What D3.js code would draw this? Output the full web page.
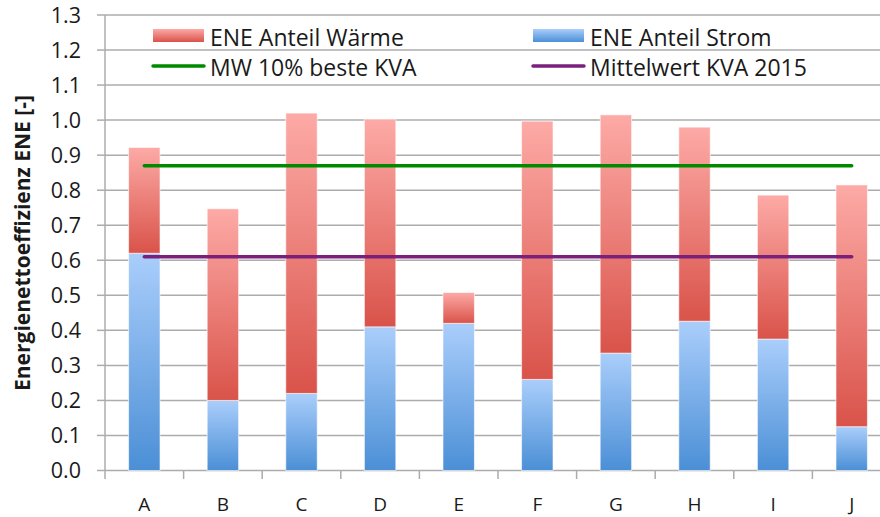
<!DOCTYPE html>
<html>
<head>
<meta charset="utf-8">
<script src="https://cdn.jsdelivr.net/npm/d3@7"></script>
<style>
  html, body { margin: 0; padding: 0; background: #fff; }
  svg { display: block; }
  text { font-family: "Open Sans", "Noto Sans", sans-serif; fill: #1a1a1a; }
</style>
</head>
<body>
<svg id="chart" width="880" height="517"></svg>
<script>
// Plant categories and ENE shares
const categories = ["A", "B", "C", "D", "E", "F", "G", "H", "I", "J"];
const anteilStrom = [0.62, 0.20, 0.22, 0.41, 0.42, 0.26, 0.335, 0.426, 0.375, 0.125];
const anteilWaerme = [0.302, 0.547, 0.80, 0.593, 0.088, 0.737, 0.68, 0.554, 0.411, 0.69];
// Reference averages drawn as horizontal lines
const mwBesteKVA = 0.87;
const mittelwertKVA2015 = 0.61;
// Y axis ticks
const yTicks = [0.0, 0.1, 0.2, 0.3, 0.4, 0.5, 0.6, 0.7, 0.8, 0.9, 1.0, 1.1, 1.2, 1.3];

const legendLabels = ["ENE Anteil Wärme", "ENE Anteil Strom", "MW 10% beste KVA", "Mittelwert KVA 2015"];

const svg = d3.select("#chart");
const plot = { left: 105, right: 891, top: 15, bottom: 470.5 };

const x = d3.scaleBand()
  .domain(categories)
  .range([plot.left, plot.right])
  .paddingInner(0.6)
  .paddingOuter(0.3);
const step = x.step();

const y = d3.scaleLinear()
  .domain([0, 1.3])
  .range([plot.bottom, plot.top]);

// Gradients for the two stacked series
const defs = svg.append("defs");
function vGrad(id, top, bottom) {
  const g = defs.append("linearGradient").attr("id", id)
    .attr("x1", 0).attr("y1", 0).attr("x2", 0).attr("y2", 1);
  g.append("stop").attr("offset", "0%").attr("stop-color", top);
  g.append("stop").attr("offset", "100%").attr("stop-color", bottom);
}
vGrad("gradWaerme", "#fdaaa6", "#d9534a");
vGrad("gradStrom", "#aacefb", "#4b8fd6");

const gridColor = "#acacac";

// Horizontal gridlines
svg.append("g").selectAll("line").data(yTicks).join("line")
  .attr("x1", plot.left).attr("x2", plot.right)
  .attr("y1", d => y(d)).attr("y2", d => y(d))
  .attr("stroke", gridColor).attr("stroke-width", 1.5);

// Y axis line and ticks
svg.append("line")
  .attr("x1", plot.left).attr("x2", plot.left)
  .attr("y1", plot.top).attr("y2", plot.bottom)
  .attr("stroke", gridColor).attr("stroke-width", 1.5);
svg.append("g").selectAll("line").data(yTicks).join("line")
  .attr("x1", plot.left - 8).attr("x2", plot.left)
  .attr("y1", d => y(d)).attr("y2", d => y(d))
  .attr("stroke", gridColor).attr("stroke-width", 1.5);
svg.append("g").selectAll("text").data(yTicks).join("text")
  .attr("x", 81).attr("y", d => y(d))
  .attr("dy", "0.36em")
  .attr("text-anchor", "end")
  .attr("font-size", 21.5)
  .text(d => d3.format(".1f")(d));

// X axis line and category separators
const xBounds = d3.range(categories.length + 1).map(i => plot.left + i * step);
svg.append("g").selectAll("line").data(xBounds).join("line")
  .attr("x1", d => d).attr("x2", d => d)
  .attr("y1", plot.bottom).attr("y2", plot.bottom + 8.5)
  .attr("stroke", gridColor).attr("stroke-width", 1.5);
svg.append("g").selectAll("text").data(categories).join("text")
  .attr("x", d => x(d) + x.bandwidth() / 2)
  .attr("y", 511)
  .attr("text-anchor", "middle")
  .attr("font-size", 19)
  .text(d => d);

// Stacked bars
const rows = categories.map((c, i) => ({ c, strom: anteilStrom[i], waerme: anteilWaerme[i] }));
const barStroke = "rgba(255,255,255,0.6)";
const bars = svg.append("g");
bars.selectAll("rect.strom").data(rows).join("rect")
  .attr("class", "strom")
  .attr("x", d => x(d.c)).attr("width", x.bandwidth())
  .attr("y", d => y(d.strom)).attr("height", d => y(0) - y(d.strom))
  .attr("fill", "url(#gradStrom)")
  .attr("stroke", barStroke).attr("stroke-width", 1);
bars.selectAll("rect.waerme").data(rows).join("rect")
  .attr("class", "waerme")
  .attr("x", d => x(d.c)).attr("width", x.bandwidth())
  .attr("y", d => y(d.strom + d.waerme)).attr("height", d => y(d.strom) - y(d.strom + d.waerme))
  .attr("fill", "url(#gradWaerme)")
  .attr("stroke", barStroke).attr("stroke-width", 1);

// Reference lines from first to last category centre
const xFirst = x(categories[0]) + x.bandwidth() / 2;
const xLast = x(categories[categories.length - 1]) + x.bandwidth() / 2;
[[mwBesteKVA, "#008a00"], [mittelwertKVA2015, "#7b1f7d"]].forEach(([v, col]) => {
  svg.append("line")
    .attr("x1", xFirst).attr("x2", xLast)
    .attr("y1", y(v)).attr("y2", y(v))
    .attr("stroke", col).attr("stroke-width", 3.5)
    .attr("stroke-linecap", "round");
});

// Legend
const legend = svg.append("g");
const legendItems = [
  { label: legendLabels[0], type: "rect", fill: "url(#gradWaerme)", x: 153, y: 37 },
  { label: legendLabels[1], type: "rect", fill: "url(#gradStrom)", x: 533, y: 37 },
  { label: legendLabels[2], type: "line", color: "#008a00", x: 153, y: 67 },
  { label: legendLabels[3], type: "line", color: "#7b1f7d", x: 533, y: 67 }
];
legendItems.forEach(it => {
  if (it.type === "rect") {
    legend.append("rect")
      .attr("x", it.x).attr("y", it.y - 8).attr("width", 51).attr("height", 13)
      .attr("fill", it.fill);
  } else {
    legend.append("line")
      .attr("x1", it.x).attr("x2", it.x + 51)
      .attr("y1", it.y - 1).attr("y2", it.y - 1)
      .attr("stroke", it.color).attr("stroke-width", 3.5)
      .attr("stroke-linecap", "round");
  }
  legend.append("text")
    .attr("x", it.x + 57).attr("y", it.y + 8.5)
    .attr("font-size", 23)
    .text(it.label);
});

// Y axis title
svg.append("text")
  .attr("transform", "translate(30,243) rotate(-90)")
  .attr("text-anchor", "middle")
  .attr("font-size", 21)
  .attr("font-weight", "bold")
  .text("Energienettoeffizienz ENE [-]");
</script>
</body>
</html>
